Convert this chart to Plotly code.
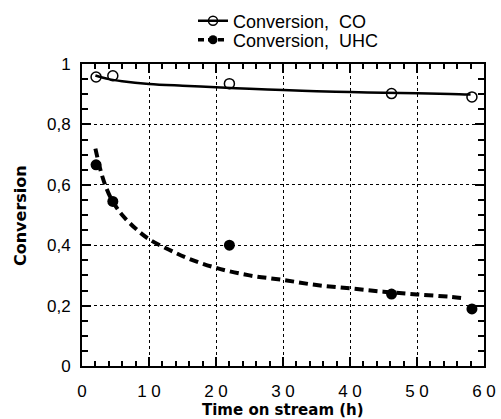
import plotly.graph_objects as go

# measured points
t_points = [2.1, 4.6, 22.0, 46.2, 58.2]
co_points = [0.957, 0.961, 0.935, 0.902, 0.891]
uhc_points = [0.666, 0.545, 0.400, 0.238, 0.189]

# fitted curves
t_co_curve = [2, 4, 6, 10, 15, 20, 25, 30, 35, 40, 45, 50, 55, 58]
co_curve = [0.962, 0.950, 0.943, 0.934, 0.928, 0.923, 0.918, 0.914, 0.910, 0.907, 0.905, 0.903, 0.901, 0.899]
t_uhc_curve = [2, 3, 4, 5, 6, 8, 10, 13, 16, 20, 25, 30, 35, 40, 45, 50, 55, 57]
uhc_curve = [0.72, 0.63, 0.57, 0.53, 0.50, 0.455, 0.42, 0.385, 0.355, 0.325, 0.300, 0.285, 0.268, 0.257, 0.246, 0.237, 0.229, 0.224]

x_tickvals = [0, 10, 20, 30, 40, 50, 60]
x_ticktext = ["0", "1 0", "2 0", "3 0", "4 0", "5 0", "6 0"]
y_tickvals = [0, 0.2, 0.4, 0.6, 0.8, 1]
y_ticktext = ["0", "0,2", "0,4", "0,6", "0,8", "1"]
x_title = "Time on stream (h)"
y_title = "Conversion"

fig = go.Figure()
# curves
fig.add_trace(go.Scatter(x=t_co_curve, y=co_curve, mode="lines", line=dict(color="black", width=2.5, shape="spline"), showlegend=False))
fig.add_trace(go.Scatter(x=t_uhc_curve, y=uhc_curve, mode="lines", line=dict(color="black", width=4, dash="9px,5px", shape="spline"), showlegend=False))
# points
fig.add_trace(go.Scatter(x=t_points, y=co_points, mode="markers", marker=dict(symbol="circle-open", size=10, color="black", line=dict(width=1.5)), showlegend=False, cliponaxis=False))
fig.add_trace(go.Scatter(x=t_points, y=uhc_points, mode="markers", marker=dict(symbol="circle", size=11, color="black"), showlegend=False, cliponaxis=False))
# legend entries
fig.add_trace(go.Scatter(x=[None], y=[None], mode="lines+markers", name="Conversion,  CO", legend="legend",
                         line=dict(color="black", width=2.5), marker=dict(symbol="circle-open", size=9, color="black", line=dict(width=1.5))))
fig.add_trace(go.Scatter(x=[None], y=[None], mode="lines+markers", name="Conversion,  UHC", legend="legend2",
                         line=dict(color="black", width=3.5, dash="6px,4px"), marker=dict(symbol="circle", size=9, color="black")))

axis_common = dict(showline=True, linecolor="black", linewidth=2, mirror="ticks",
                   ticks="inside", tickcolor="black", tickwidth=1.5, ticklen=9,
                   showgrid=True, gridcolor="black", gridwidth=1.2, griddash="dot",
                   zeroline=False, tickfont=dict(family="Liberation Sans", size=17, color="black"))

fig.update_xaxes(**axis_common, range=[0, 60], tickmode="array", tickvals=x_tickvals, ticktext=x_ticktext, tickangle=0,
                 ticklabelstandoff=9,
                 minor=dict(dtick=2, ticks="inside", ticklen=5, tickcolor="black", tickwidth=1.5, showgrid=False))
fig.update_yaxes(**axis_common, range=[0, 1], tickmode="array", tickvals=y_tickvals, ticktext=y_ticktext,
                 ticklabelstandoff=6,
                 minor=dict(dtick=0.05, ticks="inside", ticklen=6, tickcolor="black", tickwidth=1.5, showgrid=False))

fig.add_annotation(text=f"<b>{x_title}</b>", xref="paper", yref="paper", x=(283 - 82) / 402, y=-(410 - 366) / 302,
                   xanchor="center", yanchor="middle", showarrow=False,
                   font=dict(family="DejaVu Sans", size=15, color="black"))
fig.add_annotation(text=f"<b>{y_title}</b>", xref="paper", yref="paper", x=-(82 - 20) / 402, y=(366 - 216) / 302,
                   xanchor="center", yanchor="middle", showarrow=False, textangle=-90,
                   font=dict(family="DejaVu Sans", size=16, color="black"))

legend_font = dict(family="Liberation Sans", size=18, color="black")
fig.update_layout(width=501, height=419, margin=dict(l=82, r=17, t=64, b=53, autoexpand=False),
                  plot_bgcolor="white", paper_bgcolor="white",
                  legend=dict(x=193/501, y=1 - 21/419, xref="container", yref="container", xanchor="left", yanchor="middle",
                              font=legend_font, bgcolor="rgba(0,0,0,0)", borderwidth=0),
                  legend2=dict(x=193/501, y=1 - 40/419, xref="container", yref="container", xanchor="left", yanchor="middle",
                               font=legend_font, bgcolor="rgba(0,0,0,0)", borderwidth=0),
                  font=dict(family="Liberation Sans", color="black"))

fig.write_html("out.html")
